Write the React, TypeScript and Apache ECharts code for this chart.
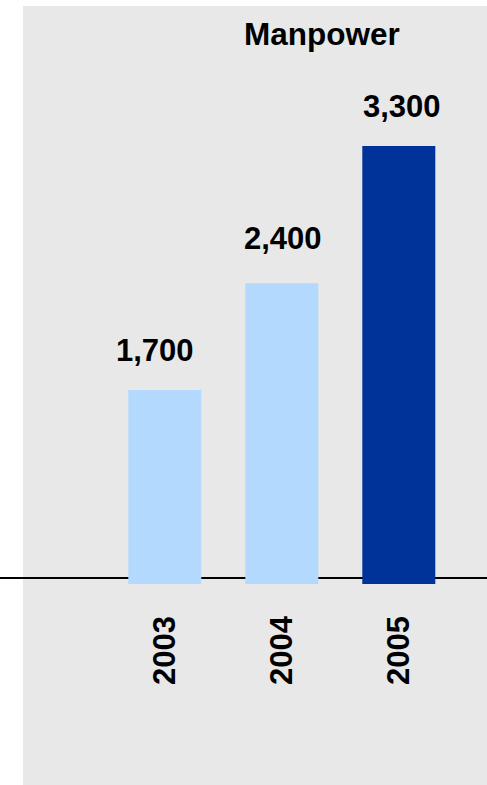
import React, { useEffect, useRef } from "react";
import * as echarts from "echarts";

const categories = ["2003", "2004", "2005"];
const values = [1700, 2400, 3300];
const valueLabels = ["1,700", "2,400", "3,300"];
const title = "Manpower";

const FONT = "'Liberation Sans', Arial, sans-serif";
const LIGHT = "#B3D9FF";
const DARK = "#003399";
const barColors = [LIGHT, LIGHT, DARK];
const labelOffsets = [[-10, 0], [1, -5], [3, 0]];

export default function App() {
  const ref = useRef<HTMLDivElement>(null);
  useEffect(() => {
    if (!ref.current) return;
    const chart = echarts.init(ref.current, null, { renderer: "svg" });
    chart.setOption({
      animation: false,
      backgroundColor: "#ffffff",
      title: {
        text: title,
        left: 244,
        top: 18,
        textStyle: { fontFamily: FONT, fontWeight: "bold", fontSize: 31.5, color: "#000" },
        padding: 0,
      },
      graphic: [
        {
          type: "rect",
          z: -10,
          shape: { x: 23, y: 6, width: 464, height: 779 },
          style: { fill: "#E8E8E8" },
          silent: true,
        },
        {
          type: "line",
          z: 1,
          shape: { x1: 0, y1: 578, x2: 487, y2: 578 },
          style: { stroke: "#000", lineWidth: 2 },
          silent: true,
        },
      ],
      grid: { left: 106.3, right: 29.7, top: 146, bottom: 201 },
      xAxis: {
        type: "category",
        data: categories,
        axisLine: { show: false },
        axisTick: { show: false },
        axisLabel: {
          rotate: 90,
          margin: 32,
          fontFamily: FONT,
          fontWeight: "bold",
          fontSize: 31,
          color: "#000",
        },
      },
      yAxis: {
        type: "value",
        min: 428,
        max: 3300,
        show: false,
        splitLine: { show: false },
      },
      series: [
        {
          type: "bar",
          z: 5,
          barWidth: 73,
          data: values.map((v, i) => ({
            value: v,
            itemStyle: { color: barColors[i] },
            label: {
              show: true,
              position: "top",
              distance: 24,
              offset: labelOffsets[i],
              formatter: valueLabels[i],
              fontFamily: FONT,
              fontWeight: "bold",
              fontSize: 31,
              color: "#000",
            },
          })),
        },
      ],
    });
    return () => chart.dispose();
  }, []);
  return (
    <div
      ref={ref}
      style={{ position: "absolute", left: 0, top: 0, width: 487, height: 785 }}
    />
  );
}
